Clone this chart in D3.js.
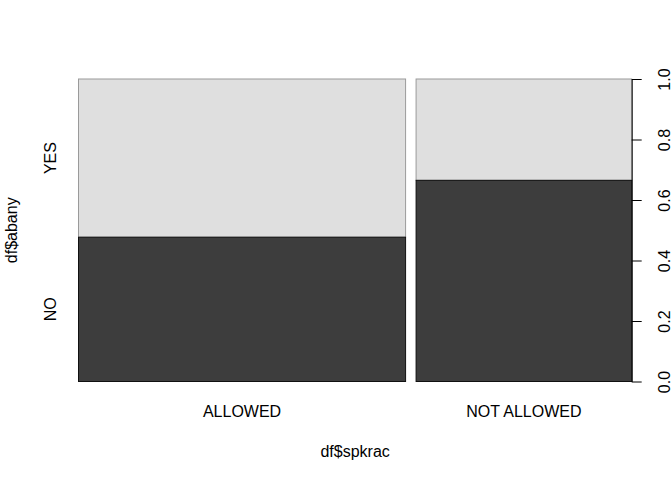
<!DOCTYPE html>
<html>
<head>
<meta charset="utf-8">
<script src="https://cdn.jsdelivr.net/npm/d3@7"></script>
<style>
body{margin:0;background:#fff;}
text{font-family:"Liberation Sans",Arial,sans-serif;font-size:16px;fill:#000;}
</style>
</head>
<body>
<svg id="chart" width="672" height="480"></svg>
<script>
// spineplot data: share of each x group, and share of NO within it
var groups = ["ALLOWED", "NOT ALLOWED"];
var groupShare = [0.6027, 0.3973];
var levels = ["NO", "YES"];
var noShare = [0.477, 0.665];
var yTicks = [0, 0.2, 0.4, 0.6, 0.8, 1.0];

drawSpine();

function drawSpine(){
	var plotLeft = 78.5, plotRight = 631.7, plotTop = 79, plotBottom = 381.5, gap = 10.5;
	var svg = d3.select("#chart");

	var x = d3.scaleLinear().domain([0, 1]).range([0, plotRight - plotLeft - gap]);
	var y = d3.scaleLinear().domain([0, 1]).range([plotBottom, plotTop]);

	var cum = 0;
	var bars = [];
	for (var i = 0; i < groups.length; i++) {
		var x0 = plotLeft + x(cum) + i * gap;
		var x1 = plotLeft + x(cum + groupShare[i]) + i * gap;
		bars.push({name: groups[i], x0: x0, x1: x1, no: noShare[i]});
		cum += groupShare[i];
	}

	var g = svg.append("g");
	bars.forEach(function(b){
		// YES part (light)
		g.append("rect")
			.attr("x", b.x0).attr("y", y(1))
			.attr("width", b.x1 - b.x0).attr("height", y(b.no) - y(1))
			.attr("fill", "#dfdfdf").attr("stroke", "#9a9a9a").attr("stroke-width", 1);
		// NO part (dark)
		g.append("rect")
			.attr("x", b.x0).attr("y", y(b.no))
			.attr("width", b.x1 - b.x0).attr("height", y(0) - y(b.no))
			.attr("fill", "#3d3d3d").attr("stroke", "#111").attr("stroke-width", 1);
		svg.append("text")
			.attr("x", (b.x0 + b.x1) / 2).attr("y", 417)
			.attr("text-anchor", "middle")
			.text(b.name);
	});

	// left category labels, placed by the first bar
	var first = bars[0];
	[{t: levels[0], lo: 0, hi: first.no}, {t: levels[1], lo: first.no, hi: 1}].forEach(function(d){
		var cy = (y(d.lo) + y(d.hi)) / 2;
		svg.append("text")
			.attr("transform", "translate(56," + cy + ") rotate(-90)")
			.attr("text-anchor", "middle")
			.text(d.t);
	});

	// right axis
	var axis = d3.axisRight(y).tickValues(yTicks).tickFormat(d3.format(".1f")).tickSize(10).tickSizeOuter(0);
	var ax = svg.append("g").attr("transform", "translate(" + plotRight + ",0)").call(axis);
	ax.select(".domain").attr("stroke", "#000");
	ax.selectAll(".tick line").attr("stroke", "#000");
	ax.selectAll(".tick text")
		.attr("x", 0).attr("dy", null)
		.attr("transform", "translate(38,0) rotate(-90)")
		.attr("text-anchor", "middle")
		.style("font-family", "Liberation Sans, Arial, sans-serif")
		.style("font-size", "16px");

	// axis titles
	svg.append("text")
		.attr("x", (plotLeft + plotRight) / 2).attr("y", 457)
		.attr("text-anchor", "middle")
		.text("df$spkrac");
	svg.append("text")
		.attr("transform", "translate(17," + (plotTop + plotBottom) / 2 + ") rotate(-90)")
		.attr("text-anchor", "middle")
		.text("df$abany");
}
</script>
</body>
</html>
